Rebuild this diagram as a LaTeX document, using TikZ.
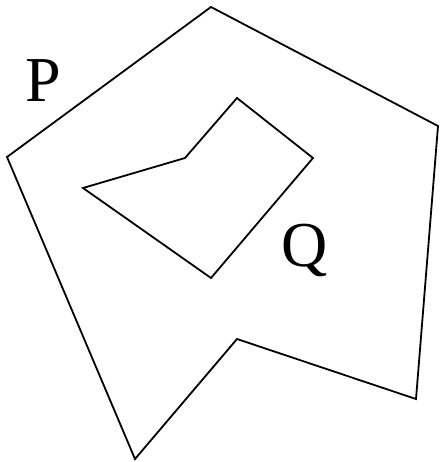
\documentclass[tikz,border=0pt]{standalone}
\usepackage{fontspec}
\setmainfont{Liberation Serif}
\usetikzlibrary{positioning}

\begin{document}
\begin{tikzpicture}[x=1pt,y=-1pt,
    poly/.style={draw=black,line width=1.8pt,line join=miter},
    lbl/.style={inner sep=0pt,anchor=base west,font=\fontsize{64}{64}\selectfont}]
    \useasboundingbox (0,0) rectangle (439,462);
    % outer polygon P
    \draw[poly] (211,7) -- (438,126) -- (416,399) -- (237,339) -- (135,459) -- (7,157) -- cycle;
    % inner polygon Q
    \draw[poly] (237,98) -- (313,158) -- (211,278) -- (83,188) -- (185,158) -- cycle;
    \node[lbl] (labP) at (25,102) {P};
    \node[lbl] (labQ) at (281,266) {Q};
\end{tikzpicture}
\end{document}
